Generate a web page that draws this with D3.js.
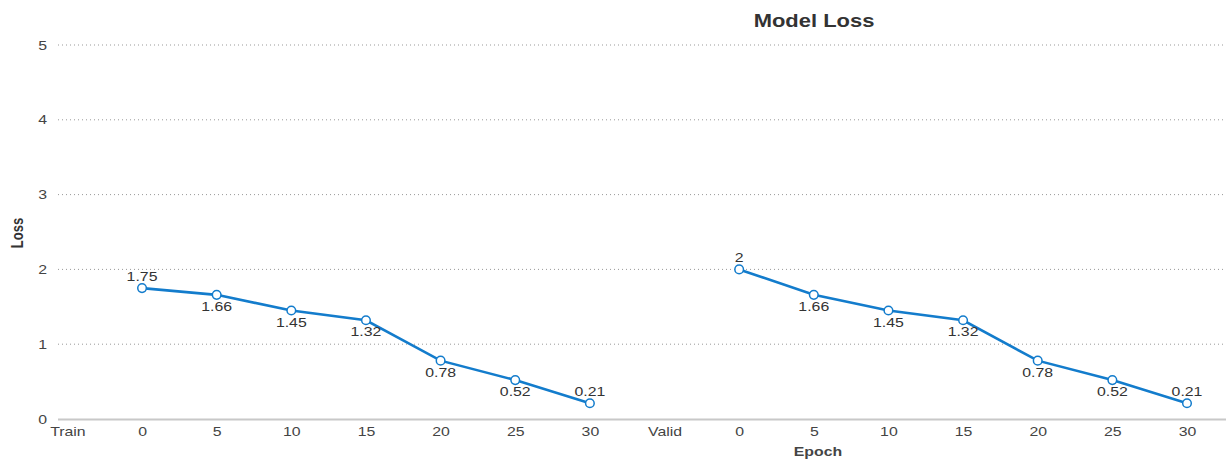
<!DOCTYPE html>
<html><head><meta charset="utf-8">
<script src="https://cdn.jsdelivr.net/npm/d3@7"></script>
<style>body{margin:0;background:#fff;font-family:"Liberation Sans",Arial,sans-serif;}</style>
</head><body><svg id="c" width="1227" height="461"></svg>
<script>
const categories = ["Train","0","5","10","15","20","25","30","Valid","0 ","5 ","10 ","15 ","20 ","25 ","30 "];
const epochs = [0,5,10,15,20,25,30];
const trainLoss = [1.75,1.66,1.45,1.32,0.78,0.52,0.21];
const validLoss = [2,1.66,1.45,1.32,0.78,0.52,0.21];
const trainLabelAbove = [true,false,false,false,false,false,true];
const validLabelAbove = [true,false,false,false,false,false,true];
const yTicks = [0,1,2,3,4,5];

const SX = 1.22; // horizontal stretch of text seen in reference
const svg = d3.select("#c");
const x = d3.scalePoint().domain(categories).range([67.4,1187]);
const y = d3.scaleLinear().domain([0,5]).range([419,45]);
const left = 58, right = 1226;

// grid
svg.append("g").selectAll("line").data(yTicks.filter(d=>d>0)).join("line")
  .attr("x1",left).attr("x2",right).attr("y1",d=>y(d)).attr("y2",d=>y(d))
  .attr("stroke","#999").attr("stroke-width",1).attr("stroke-dasharray","1,3");
// baseline
svg.append("line").attr("x1",left).attr("x2",right).attr("y1",y(0)+0.5).attr("y2",y(0)+0.5)
  .attr("stroke","#c8c8c8").attr("stroke-width",2);

// y ticks
const ya = d3.axisLeft(y).tickValues(yTicks).tickSize(0).tickPadding(0).tickFormat(d3.format("d"));
const gy = svg.append("g").attr("transform",`translate(47,0)`).call(ya);
gy.select(".domain").remove();
gy.selectAll("text").attr("font-size",13).attr("fill","#444").attr("font-family","Liberation Sans, Arial, sans-serif")
  .attr("transform",`scale(${SX},1)`);

// x ticks
const xa = d3.axisBottom(x).tickSize(0).tickPadding(0).tickFormat(d=>d.trim());
const gx = svg.append("g").attr("transform",`translate(0,427)`).call(xa);
gx.select(".domain").remove();
gx.selectAll("text").attr("font-size",13).attr("fill","#444").attr("font-family","Liberation Sans, Arial, sans-serif")
  .attr("transform",`scale(${SX},1)`);

// title and axis titles
svg.append("text").attr("transform",`translate(814,27) scale(${SX},1)`).attr("text-anchor","middle")
  .attr("font-size",18).attr("font-weight","bold").attr("fill","#333").text("Model Loss");
svg.append("text").attr("transform",`translate(23,233) rotate(-90) scale(1,${SX})`).attr("text-anchor","middle")
  .attr("font-size",13).attr("font-weight","bold").attr("fill","#333").text("Loss");
svg.append("text").attr("transform",`translate(818,456) scale(${SX},1)`).attr("text-anchor","middle")
  .attr("font-size",13).attr("font-weight","bold").attr("fill","#444").text("Epoch");

const color = "#137ccc";
function series(vals, cats, above){
  const pts = vals.map((v,i)=>({c:cats[i], v, a:above[i]}));
  const line = d3.line().x(d=>x(d.c)).y(d=>y(d.v));
  svg.append("path").datum(pts).attr("d",line).attr("fill","none")
    .attr("stroke",color).attr("stroke-width",2.6);
  svg.append("g").selectAll("circle").data(pts).join("circle")
    .attr("cx",d=>x(d.c)).attr("cy",d=>y(d.v)).attr("r",4.3)
    .attr("fill","#fff").attr("stroke",color).attr("stroke-width",1.5);
  svg.append("g").selectAll("text").data(pts).join("text")
    .attr("transform",d=>`translate(${x(d.c)},${d.a ? y(d.v)-7 : y(d.v)+16}) scale(${SX},1)`)
    .attr("text-anchor","middle").attr("font-size",13).attr("fill","#333")
    .text(d=>d.v);
}
series(trainLoss, categories.slice(1,8), trainLabelAbove);
series(validLoss, categories.slice(9,16), validLabelAbove);
</script></body></html>
